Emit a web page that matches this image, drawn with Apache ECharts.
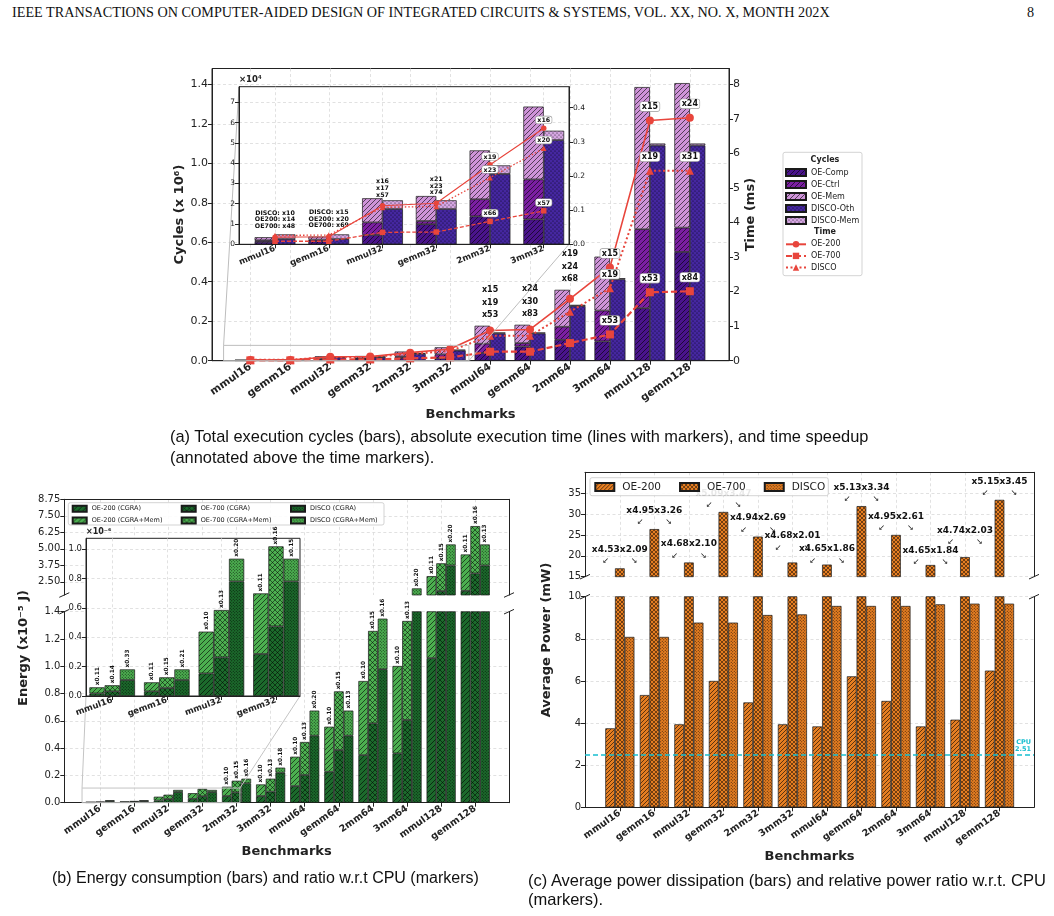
<!DOCTYPE html>
<html>
<head>
<meta charset="utf-8">
<script src="https://cdn.jsdelivr.net/npm/echarts@6.0.0/dist/echarts.min.js"></script>
<style>
  html, body { margin: 0; padding: 0; background: #fff; }
  #page { position: relative; width: 1054px; height: 916px; overflow: hidden; }
  .layer { position: absolute; left: 0; top: 0; width: 1054px; height: 916px; }
  .txt { position: absolute; white-space: nowrap; color: #111; }
  .head { font-family: "Liberation Serif", "DejaVu Serif", serif; font-size: 14.2px; line-height: 16px; top: 4px; }
  .cap { font-family: "Liberation Sans", Arial, sans-serif; font-size: 16.3px; line-height: 21px; }
</style>
</head>
<body>
<div id="page">
  <div class="txt head" style="left:12px">IEEE TRANSACTIONS ON COMPUTER-AIDED DESIGN OF INTEGRATED CIRCUITS &amp; SYSTEMS, VOL. XX, NO. X, MONTH 202X</div>
  <div class="txt head" style="left:1027px">8</div>
  <div id="ca" class="layer"></div>
  <div id="cb" class="layer"></div>
  <div id="cc" class="layer"></div>
  <div class="txt cap" style="left:170px;top:426px;font-size:16.4px">(a) Total execution cycles (bars), absolute execution time (lines with markers), and time speedup<br>(annotated above the time markers).</div>
  <div class="txt cap" style="left:52px;top:867px;font-size:16px">(b) Energy consumption (bars) and ratio w.r.t CPU (markers)</div>
  <div class="txt cap" style="left:528px;top:871px;line-height:19px;font-size:16.5px">(c) Average power dissipation (bars) and relative power ratio w.r.t. CPU<br>(markers).</div>
</div>
<script>
// ---------- data ----------
const cats = ['mmul16', 'gemm16', 'mmul32', 'gemm32', '2mm32', '3mm32', 'mmul64', 'gemm64', '2mm64', '3mm64', 'mmul128', 'gemm128'];
const catTicks = [0, 1, 2, 3, 4, 5, 6, 7, 8, 9, 10, 11];

// (a) cycles, x10^6
const oeComp   = [0.0012, 0.0015, 0.0046, 0.0099, 0.0138, 0.0123, 0.039, 0.072, 0.106, 0.098, 0.266, 0.551];
const oeCtrl   = [0.0008, 0.0008, 0.0062, 0.0016, 0.0084, 0.0197, 0.047, 0.017, 0.066, 0.156, 0.400, 0.123];
const oeMem    = [0.0015, 0.0015, 0.0119, 0.0123, 0.0241, 0.0359, 0.091, 0.093, 0.187, 0.273, 0.720, 0.732];
const discoOth = [0.0026, 0.0026, 0.0174, 0.0174, 0.0347, 0.0514, 0.138, 0.138, 0.277, 0.412, 1.090, 1.090];
const discoMem = [0.0023, 0.0023, 0.0043, 0.0043, 0.0042, 0.0046, 0.005, 0.005, 0.006, 0.006, 0.010, 0.010];
// (a) time, ms
const timeOE200 = [0.021, 0.022, 0.113, 0.120, 0.233, 0.340, 0.875, 0.905, 1.79, 2.70, 6.95, 7.03];
const timeOE700 = [0.009, 0.009, 0.035, 0.036, 0.067, 0.098, 0.26, 0.26, 0.51, 0.76, 1.98, 2.01];
const timeDISCO = [0.026, 0.027, 0.108, 0.111, 0.195, 0.281, 0.72, 0.72, 1.42, 2.10, 5.50, 5.50];
// (a) time speedups
const spOE200 = [14, 20, 16, 21, 19, 16, 15, 24, 19, 15, 15, 24];
const spDISCO = [10, 15, 17, 23, 23, 20, 19, 30, 24, 19, 19, 31];
const spOE700 = [48, 69, 57, 74, 66, 57, 53, 83, 68, 53, 53, 84];

// (b) energy, x10^-5 J
const eCgra200 = [0.0018, 0.0032, 0.0154, 0.0286, 0.049, 0.049, 0.122, 0.227, 0.349, 0.362, 1.06, 1.82];
const eMem200  = [0.0041, 0.0061, 0.0284, 0.0412, 0.068, 0.085, 0.215, 0.330, 0.543, 0.640, 1.87, 2.75];
const eCgra700 = [0.0032, 0.0054, 0.0263, 0.0474, 0.076, 0.081, 0.203, 0.386, 0.582, 0.606, 1.80, 3.14];
const eMem700  = [0.0041, 0.0073, 0.0322, 0.0544, 0.085, 0.095, 0.242, 0.430, 0.677, 0.726, 2.10, 3.58];
const eCgraD   = [0.0109, 0.0109, 0.0780, 0.0780, 0.142, 0.220, 0.491, 0.491, 0.978, 1.45, 3.74, 3.74];
const eMemD    = [0.0072, 0.0072, 0.0154, 0.0154, 0.034, 0.037, 0.184, 0.184, 0.371, 0.55, 1.59, 1.59];
// (b) ratio w.r.t. CPU
const erOE200 = [0.11, 0.11, 0.10, 0.11, 0.10, 0.10, 0.10, 0.10, 0.10, 0.10, 0.11, 0.11];
const erOE700 = [0.14, 0.15, 0.13, 0.16, 0.15, 0.13, 0.13, 0.15, 0.15, 0.13, 0.15, 0.16];
const erDISCO = [0.33, 0.21, 0.20, 0.15, 0.16, 0.18, 0.20, 0.13, 0.16, 0.20, 0.20, 0.13];

// (c) average power, mW
const pwOE200 = [3.75, 5.33, 3.94, 6.00, 4.98, 3.94, 3.84, 6.22, 5.05, 3.84, 4.16, 6.49];
const pwOE700 = [17.0, 26.4, 18.4, 30.5, 24.6, 18.4, 17.9, 31.9, 25.0, 17.8, 19.7, 33.4];
const pwDISCO = [8.09, 8.09, 8.77, 8.77, 9.13, 9.16, 9.56, 9.56, 9.56, 9.64, 9.67, 9.67];
const r700vs200   = [4.53, 4.95, 4.68, 5.09, 4.94, 4.68, 4.65, 5.13, 4.95, 4.65, 4.74, 5.15];
const r700vsDISCO = [2.09, 3.26, 2.10, 3.47, 2.69, 2.01, 1.86, 3.34, 2.61, 1.84, 2.03, 3.45];
const cpuPower = 2.51;

// ---------- styles ----------
const FONT = 'DejaVu Sans';
const INK = '#222';
const RED = '#e8453c';
const CYAN = '#17becf';
const GRIDLINE = { color: '#d9d9d9', type: [3, 2.5], width: 0.8 };

function pattern(bg, kind, s, lw) {
  const c = document.createElement('canvas');
  c.width = s; c.height = s;
  const g = c.getContext('2d');
  g.fillStyle = bg;
  g.fillRect(0, 0, s, s);
  g.strokeStyle = 'rgba(0,0,0,0.85)';
  g.fillStyle = 'rgba(0,0,0,0.85)';
  g.lineWidth = lw;
  if (kind === '/' || kind === 'x') {
    g.beginPath();
    for (const k of [-s, 0, s]) { g.moveTo(k, s); g.lineTo(k + s, 0); }
    g.stroke();
  }
  if (kind === 'x') {
    g.beginPath();
    for (const k of [-s, 0, s]) { g.moveTo(k, 0); g.lineTo(k + s, s); }
    g.stroke();
  }
  if (kind === '.') {
    for (const [x, y] of [[s / 4, s / 4], [3 * s / 4, 3 * s / 4]]) {
      g.beginPath(); g.arc(x, y, lw, 0, Math.PI * 2); g.fill();
    }
  }
  return { image: c, repeat: 'repeat' };
}

function catAxis(o) {
  return {
    type: 'value', gridIndex: o.grid, min: o.lim[0], max: o.lim[1], position: o.pos || 'bottom',
    zlevel: o.zlevel || 0, z: o.zlevel ? 1 : 0,
    axisLine: { show: o.line !== false, onZero: false, lineStyle: { color: INK, width: 1 } },
    axisTick: { show: !!o.fs, customValues: o.ticks, length: 4, lineStyle: { color: INK } },
    axisLabel: {
      show: !!o.fs, customValues: o.ticks, formatter: v => cats[Math.round(v)], rotate: o.rotate,
      margin: o.margin, fontFamily: FONT, fontWeight: 'bold', fontSize: o.fs, color: INK
    },
    splitLine: { show: true, lineStyle: GRIDLINE },
    name: o.name, nameLocation: 'middle', nameGap: o.nameGap,
    nameTextStyle: { fontFamily: FONT, fontWeight: 'bold', fontSize: 13, color: INK }
  };
}

function valAxis(o) {
  return {
    type: 'value', gridIndex: o.grid, position: o.pos || 'left', min: o.lim[0], max: o.lim[1],
    zlevel: o.zlevel || 0, z: o.zlevel ? 1 : 0,
    axisLine: { show: o.line !== false, onZero: false, lineStyle: { color: INK, width: 1 } },
    axisTick: { show: !!o.ticks, customValues: o.ticks, length: 4, lineStyle: { color: INK } },
    axisLabel: {
      show: !!o.ticks, customValues: o.ticks, formatter: o.fmt, margin: 4,
      fontFamily: FONT, fontSize: o.fs, color: INK
    },
    splitLine: { show: !!o.split, lineStyle: GRIDLINE },
    name: o.name, nameLocation: o.nameLoc || 'middle', nameGap: o.nameGap,
    nameTextStyle: Object.assign({ fontFamily: FONT, fontWeight: 'bold', fontSize: 13, color: INK }, o.nameStyle)
  };
}

// bars on a value x axis: the value goes first so that stacking works on y
function barSeries(name, vals, xi, yi, stack, color, width, labels, extra) {
  return Object.assign({
    type: 'bar', name: name, xAxisIndex: xi, yAxisIndex: yi, stack: stack,
    barWidth: width, barGap: '0%', clip: true,
    encode: { x: 1, y: 0 },
    data: vals.map((v, i) => (labels && labels[i]) ? { value: [v, i], label: labels[i] } : [v, i]),
    itemStyle: { color: color, borderColor: '#1a1a1a', borderWidth: 0.7 },
    emphasis: { disabled: true }
  }, extra || {});
}

function lineSeries(name, vals, xi, yi, st, labels, extra) {
  return Object.assign({
    type: 'line', name: name, xAxisIndex: xi, yAxisIndex: yi,
    data: vals.map((v, i) => (labels && labels[i]) ? { value: [i, v], label: labels[i] } : [i, v]),
    symbol: st.symbol, symbolSize: st.size, showAllSymbol: true,
    lineStyle: { color: RED, width: st.w, type: st.type },
    itemStyle: { color: RED },
    emphasis: { disabled: true }, z: 5
  }, extra || {});
}

function boxLabel(text, fs, dist) {
  return {
    show: true, position: 'top', distance: dist, formatter: text,
    fontFamily: FONT, fontWeight: 'bold', fontSize: fs, color: '#111',
    backgroundColor: '#fff', borderColor: '#9a9a9a', borderWidth: 0.6, borderRadius: 2, padding: [1, 1.5, 0, 1.5]
  };
}

function stackLabel(text, fs, lh, dist, dx) {
  return {
    show: true, position: 'top', distance: dist, offset: [dx, 0], formatter: text, align: 'center',
    fontFamily: FONT, fontWeight: 'bold', fontSize: fs, lineHeight: lh, color: '#111'
  };
}

function ratioLabel(r) {
  return {
    show: true, position: 'top', rotate: 90, align: 'left', verticalAlign: 'middle', distance: 2,
    formatter: 'x' + r.toFixed(2), fontFamily: FONT, fontWeight: 'bold', fontSize: 5.8, color: '#111'
  };
}

const seg = (x1, y1, x2, y2, color, w, z) => ({
  type: 'line', silent: true, z: z || 10, shape: { x1, y1, x2, y2 }, style: { stroke: color, lineWidth: w }
});
const breakMarks = (xs, ys) => {
  const out = [];
  xs.forEach(x => ys.forEach(y => out.push(seg(x - 5, y + 2.3, x + 5, y - 2.3, INK, 1, 20))));
  return out;
};
const boxRect = (x, y, w, h, z) => ({
  type: 'rect', silent: true, z: z || 3, shape: { x, y, width: w, height: h, r: 2 },
  style: { fill: 'rgba(255,255,255,0.9)', stroke: '#c8c8c8', lineWidth: 0.8 }
});
const gText = (x, y, text, font, rot, align) => ({
  type: 'text', silent: true, z: 20, x, y, rotation: rot || 0,
  style: { text, font, fill: INK, align: align || 'center', verticalAlign: 'middle' }
});

// ---------- (a) cycles and time ----------
const LA = { left: 212, top: 68.5, width: 517, height: 292.2 };
const LAi = { left: 239, top: 86.7, width: 330, height: 157.6 };
const xlimA = [-0.96, 11.98], xlimAi = [-0.67, 5.47];
const ylimA = [0, 1.48], ylimAt = [0, 8.457], ylimAi = [0, 7.77], ylimAit = [0, 0.4615];

const pA = {
  comp: pattern('#4a148c', '/', 5, 0.7),
  ctrl: pattern('#7b1fa2', '/', 5, 0.7),
  mem: pattern('#ce93d8', '/', 5, 0.7),
  oth: pattern('#4527a0', '.', 4, 0.6),
  dmem: pattern('#d5a6e2', '.', 4, 0.6)
};
const stOE200 = { symbol: 'circle', size: 8, w: 1.6, type: 'solid' };
const stOE700 = { symbol: 'rect', size: 8, w: 2.2, type: [6, 3] };
const stDISCO = { symbol: 'triangle', size: 8, w: 2, type: [2, 2.5] };
const stOE200i = { symbol: 'circle', size: 5.5, w: 1.1, type: 'solid' };
const stOE700i = { symbol: 'rect', size: 5.5, w: 1.3, type: [4, 2] };
const stDISCOi = { symbol: 'triangle', size: 5.5, w: 1.3, type: [1.5, 2] };

const mainStackIdx = [6, 7, 8], mainBoxIdx = [9, 10, 11];
const insetNamedIdx = [0, 1], insetStackIdx = [2, 3], insetBoxIdx = [4, 5];
const pick = (idxs, fn) => cats.map((c, i) => idxs.includes(i) ? fn(i) : null);
const sub6 = arr => arr.slice(0, 6);
const x100 = arr => arr.slice(0, 6).map(v => v * 100);

const oeTopLabelsMain = pick(mainStackIdx, i => stackLabel(`x${spOE200[i]}\nx${spDISCO[i]}\nx${spOE700[i]}`, 8, 12.8, 4, 7.75));
const oeTopLabelsInset = cats.map((c, i) => {
  if (insetNamedIdx.includes(i)) return stackLabel(`DISCO: x${spDISCO[i]}\nOE200: x${spOE200[i]}\nOE700: x${spOE700[i]}`, 6.3, 6.7, 7.5, 10.2);
  if (insetStackIdx.includes(i)) return stackLabel(`x${spOE200[i]}\nx${spDISCO[i]}\nx${spOE700[i]}`, 6.3, 6.7, 0, 10.2);
  return null;
});
const IN = { zlevel: 1, z: 3 };
const INL = { zlevel: 1, z: 5 };

const optA = {
  animation: false,
  textStyle: { fontFamily: FONT },
  grid: [
    Object.assign({ show: true, borderColor: INK, borderWidth: 1, backgroundColor: 'transparent' }, LA),
    Object.assign({ show: true, borderColor: INK, borderWidth: 1, backgroundColor: '#fff', zlevel: 1, z: 0 }, LAi)
  ],
  xAxis: [
    catAxis({ grid: 0, lim: xlimA, ticks: catTicks, fs: 10.5, rotate: 35, margin: 5, name: 'Benchmarks', nameGap: 47 }),
    catAxis({ grid: 1, lim: xlimAi, ticks: catTicks.slice(0, 6), fs: 8.5, rotate: 22, margin: 4, zlevel: 1 })
  ],
  yAxis: [
    valAxis({ grid: 0, lim: ylimA, ticks: [0, 0.2, 0.4, 0.6, 0.8, 1.0, 1.2, 1.4], fmt: v => v.toFixed(1), fs: 11, split: true,
      name: 'Cycles (x 10\u2076)', nameGap: 23 }),
    valAxis({ grid: 0, pos: 'right', lim: ylimAt, ticks: [0, 1, 2, 3, 4, 5, 6, 7, 8], fmt: v => String(v), fs: 11,
      name: 'Time (ms)', nameGap: 10 }),
    valAxis({ grid: 1, lim: ylimAi, ticks: [0, 1, 2, 3, 4, 5, 6, 7], fmt: v => String(v), fs: 7.5, split: true, zlevel: 1,
      name: '\u00d710\u2074', nameLoc: 'end', nameGap: 2, nameStyle: { fontSize: 8.5, align: 'left' } }),
    valAxis({ grid: 1, pos: 'right', lim: ylimAit, ticks: [0, 0.1, 0.2, 0.3, 0.4], fmt: v => v.toFixed(1), fs: 7.5, zlevel: 1 })
  ],
  legend: [
    { data: ['OE-Comp', 'OE-Ctrl', 'OE-Mem', 'DISCO-Oth', 'DISCO-Mem'], orient: 'vertical', left: 785, top: 168,
      icon: 'rect', itemWidth: 20, itemHeight: 7, itemGap: 3, padding: 0, selectedMode: false,
      textStyle: { fontFamily: FONT, fontSize: 8, lineHeight: 8, color: INK } },
    { data: ['OE-200', 'OE-700', 'DISCO'], orient: 'vertical', left: 785, top: 240.3,
      itemWidth: 20, itemHeight: 8, itemGap: 3.6, padding: 0, selectedMode: false,
      textStyle: { fontFamily: FONT, fontSize: 8, lineHeight: 8, color: INK } }
  ],
  series: [
    barSeries('OE-Comp', oeComp, 0, 0, 'aOE', pA.comp, 15.5),
    barSeries('OE-Ctrl', oeCtrl, 0, 0, 'aOE', pA.ctrl, 15.5),
    barSeries('OE-Mem', oeMem, 0, 0, 'aOE', pA.mem, 15.5, oeTopLabelsMain),
    barSeries('DISCO-Oth', discoOth, 0, 0, 'aDISCO', pA.oth, 15.5),
    barSeries('DISCO-Mem', discoMem, 0, 0, 'aDISCO', pA.dmem, 15.5),
    lineSeries('OE-200', timeOE200, 0, 1, stOE200, pick(mainBoxIdx, i => boxLabel('x' + spOE200[i], 8, 5.5))),
    lineSeries('OE-700', timeOE700, 0, 1, stOE700, pick(mainBoxIdx, i => boxLabel('x' + spOE700[i], 8, 5.5))),
    lineSeries('DISCO', timeDISCO, 0, 1, stDISCO, pick(mainBoxIdx, i => boxLabel('x' + spDISCO[i], 8, 5.5))),

    barSeries('OE-Comp', x100(oeComp), 1, 2, 'iOE', pA.comp, 20.4, null, IN),
    barSeries('OE-Ctrl', x100(oeCtrl), 1, 2, 'iOE', pA.ctrl, 20.4, null, IN),
    barSeries('OE-Mem', x100(oeMem), 1, 2, 'iOE', pA.mem, 20.4, oeTopLabelsInset, IN),
    barSeries('DISCO-Oth', x100(discoOth), 1, 2, 'iDISCO', pA.oth, 20.4, null, IN),
    barSeries('DISCO-Mem', x100(discoMem), 1, 2, 'iDISCO', pA.dmem, 20.4, null, IN),
    lineSeries('OE-200', sub6(timeOE200), 1, 3, stOE200i, pick(insetBoxIdx, i => boxLabel('x' + spOE200[i], 6.3, 2)), INL),
    lineSeries('OE-700', sub6(timeOE700), 1, 3, stOE700i, pick(insetBoxIdx, i => boxLabel('x' + spOE700[i], 6.3, 2)), INL),
    lineSeries('DISCO', sub6(timeDISCO), 1, 3, stDISCOi, pick(insetBoxIdx, i => boxLabel('x' + spDISCO[i], 6.3, 2)), INL)
  ]
};

const chartA = echarts.init(document.getElementById('ca'));
chartA.setOption(optA);
{
  const a0 = chartA.convertToPixel({ xAxisIndex: 0, yAxisIndex: 0 }, [xlimAi[0], 0]);
  const a1 = chartA.convertToPixel({ xAxisIndex: 0, yAxisIndex: 0 }, [xlimAi[1], ylimAi[1] / 100]);
  const zc = '#bdbdbd';
  chartA.setOption({
    graphic: [
      { type: 'rect', silent: true, z: 10, shape: { x: a0[0], y: a1[1], width: a1[0] - a0[0], height: a0[1] - a1[1] },
        style: { fill: 'none', stroke: zc, lineWidth: 1 } },
      seg(a0[0], a1[1], LAi.left, LAi.top, zc, 1),
      seg(a1[0], a0[1], LAi.left + LAi.width, LAi.top + LAi.height, zc, 1),
      boxRect(783, 152.3, 79, 123.4, 1),
      gText(825, 160, 'Cycles', `bold 8px "${FONT}"`),
      gText(825, 232.3, 'Time', `bold 8px "${FONT}"`)
    ]
  });
}

// ---------- (b) energy ----------
const LBu = { left: 64.3, top: 499.3, width: 444.7, height: 95.7 };
const LBl = { left: 64.3, top: 611.7, width: 444.7, height: 191 };
const LBi = { left: 86, top: 538.3, width: 214, height: 157.7 };
const xlimB = [-1.05, 11.99], xlimBi = [-0.48, 3.44], zoomBoxB = [-0.53, 4.1];
const ylimBu = [1.5, 8.75], ylimBl = [0, 1.4], ylimBi = [0, 1.073];
const GD = '#1c6a2c', GL = '#4caf50';
const pB = {
  c200: pattern(GD, '/', 5, 0.7), m200: pattern(GL, '/', 5, 0.7),
  c700: pattern(GD, 'x', 5, 0.6), m700: pattern(GL, 'x', 5, 0.6),
  cD: pattern(GD, '.', 3, 0.5), mD: pattern(GL, '.', 3, 0.5)
};
const cfgB = [
  { tag: '200', name: 'OE-200', cgra: eCgra200, mem: eMem200, r: erOE200, pc: pB.c200, pm: pB.m200 },
  { tag: '700', name: 'OE-700', cgra: eCgra700, mem: eMem700, r: erOE700, pc: pB.c700, pm: pB.m700 },
  { tag: 'D', name: 'DISCO', cgra: eCgraD, mem: eMemD, r: erDISCO, pc: pB.cD, pm: pB.mD }
];
const regionsB = [
  { key: 'u', x: 0, y: 0, show: (i, top) => i >= 4 && top > ylimBu[0] },
  { key: 'l', x: 1, y: 2, show: (i, top) => i >= 4 && top <= ylimBl[1] }
];
const seriesB = [];
regionsB.forEach(rg => cfgB.forEach(c => {
  const labels = cats.map((n, i) => rg.show(i, c.cgra[i] + c.mem[i]) ? ratioLabel(c.r[i]) : null);
  seriesB.push(barSeries(c.name + ' (CGRA)', c.cgra, rg.x, rg.y, rg.key + c.tag, c.pc, 9.7));
  seriesB.push(barSeries(c.name + ' (CGRA+Mem)', c.mem, rg.x, rg.y, rg.key + c.tag, c.pm, 9.7, labels));
}));
cfgB.forEach(c => {
  const x10 = arr => arr.slice(0, 4).map(v => v * 10);
  const labels = cats.slice(0, 4).map((n, i) => ratioLabel(c.r[i]));
  seriesB.push(barSeries(c.name + ' (CGRA)', x10(c.cgra), 2, 4, 'i' + c.tag, c.pc, 15.2, null, IN));
  seriesB.push(barSeries(c.name + ' (CGRA+Mem)', x10(c.mem), 2, 4, 'i' + c.tag, c.pm, 15.2, labels, IN));
});
const legB = (names, left) => ({
  data: names, orient: 'vertical', left: left, top: 504.8, icon: 'rect', itemWidth: 14, itemHeight: 6,
  itemGap: 3.7, padding: 0, selectedMode: false, textStyle: { fontFamily: FONT, fontSize: 6.5, lineHeight: 7, color: INK }
});

const optB = {
  animation: false,
  textStyle: { fontFamily: FONT },
  grid: [
    Object.assign({}, LBu),
    Object.assign({}, LBl),
    Object.assign({ show: true, borderColor: INK, borderWidth: 1, backgroundColor: '#fff', zlevel: 1, z: 0 }, LBi)
  ],
  xAxis: [
    catAxis({ grid: 0, lim: xlimB, ticks: catTicks, pos: 'top' }),
    catAxis({ grid: 1, lim: xlimB, ticks: catTicks, fs: 9.5, rotate: 35, margin: 5, name: 'Benchmarks', nameGap: 42 }),
    catAxis({ grid: 2, lim: xlimBi, ticks: [0, 1, 2, 3], fs: 8.5, rotate: 20, margin: 4, zlevel: 1 })
  ],
  yAxis: [
    valAxis({ grid: 0, lim: ylimBu, ticks: [2.5, 3.75, 5, 6.25, 7.5, 8.75], fmt: v => v.toFixed(2), fs: 10, split: true }),
    valAxis({ grid: 0, pos: 'right', lim: ylimBu }),
    valAxis({ grid: 1, lim: ylimBl, ticks: [0, 0.2, 0.4, 0.6, 0.8, 1.0, 1.2, 1.4], fmt: v => v.toFixed(1), fs: 10, split: true }),
    valAxis({ grid: 1, pos: 'right', lim: ylimBl }),
    valAxis({ grid: 2, lim: ylimBi, ticks: [0, 0.2, 0.4, 0.6, 0.8, 1.0], fmt: v => v.toFixed(1), fs: 8.5, split: true, zlevel: 1,
      name: '\u00d710\u207b\u2076', nameLoc: 'end', nameGap: 2, nameStyle: { fontSize: 8, align: 'left' } })
  ],
  legend: [
    legB(['OE-200 (CGRA)', 'OE-200 (CGRA+Mem)'], 71.7),
    legB(['OE-700 (CGRA)', 'OE-700 (CGRA+Mem)'], 180.7),
    legB(['DISCO (CGRA)', 'DISCO (CGRA+Mem)'], 290)
  ],
  series: seriesB
};
const chartB = echarts.init(document.getElementById('cb'));
chartB.setOption(optB);
{
  const b0 = chartB.convertToPixel({ xAxisIndex: 1, yAxisIndex: 2 }, [zoomBoxB[0], 0]);
  const b1 = chartB.convertToPixel({ xAxisIndex: 1, yAxisIndex: 2 }, [zoomBoxB[1], ylimBi[1] / 10]);
  const zc = '#c4c4c4';
  const yb = LBu.top + LBu.height, yt = LBl.top;
  chartB.setOption({
    graphic: [
      { type: 'rect', silent: true, z: 10, shape: { x: b0[0], y: b1[1], width: b1[0] - b0[0], height: b0[1] - b1[1] },
        style: { fill: 'none', stroke: zc, lineWidth: 1 } },
      seg(b0[0], b1[1], LBi.left, LBi.top + LBi.height, zc, 1),
      seg(b1[0], b1[1], LBi.left + LBi.width, LBi.top + LBi.height, zc, 1),
      boxRect(68.3, 502.7, 315.7, 22.3),
      gText(24, 648, 'Energy (x10\u207b\u2075 J)', `bold 13px "${FONT}"`, Math.PI / 2)
    ].concat(breakMarks([LBu.left, LBu.left + LBu.width], [yb, yt]))
  });
}

// ---------- (c) power ----------
const LCu = { left: 585, top: 472.3, width: 449, height: 104.4 };
const LCl = { left: 585, top: 596.7, width: 449, height: 210.6 };
const xlimC = [-1.01, 12.0];
const ylimCu = [15, 40], ylimCl = [0, 10];
const OR = '#e67e22';
const pC = { p200: pattern(OR, '/', 4, 0.7), p700: pattern(OR, 'x', 4, 0.6), pD: pattern(OR, '.', 3, 0.5) };
const liftC = { 5: 8, 6: -3, 9: -4, 10: 8 };
const ratioLabelsC = cats.map((n, i) => ({
  show: true, position: 'top', distance: 1 + (liftC[i] || 0),
  formatter: `{t|x${r700vs200[i].toFixed(2)}x${r700vsDISCO[i].toFixed(2)}}\n{a|\u2199}{g|}{a|\u2198}`,
  rich: {
    t: { fontFamily: FONT, fontWeight: 'bold', fontSize: 9, lineHeight: 11, color: '#111' },
    a: { fontFamily: FONT, fontSize: 8, lineHeight: 8, color: '#111' },
    g: { width: 22 }
  }
}));
const optC = {
  animation: false,
  textStyle: { fontFamily: FONT },
  grid: [Object.assign({}, LCu), Object.assign({}, LCl)],
  xAxis: [
    catAxis({ grid: 0, lim: xlimC, ticks: catTicks, pos: 'top' }),
    catAxis({ grid: 1, lim: xlimC, ticks: catTicks, fs: 9.5, rotate: 35, margin: 5, name: 'Benchmarks', nameGap: 43 })
  ],
  yAxis: [
    valAxis({ grid: 0, lim: ylimCu, ticks: [15, 20, 25, 30, 35], fmt: v => String(v), fs: 10, split: true }),
    valAxis({ grid: 0, pos: 'right', lim: ylimCu }),
    valAxis({ grid: 1, lim: ylimCl, ticks: [0, 2, 4, 6, 8, 10], fmt: v => String(v), fs: 10, split: true }),
    valAxis({ grid: 1, pos: 'right', lim: ylimCl })
  ],
  legend: {
    data: ['OE-200', 'OE-700', 'DISCO'], left: 594.3, top: 481.5, icon: 'rect', itemWidth: 19, itemHeight: 8,
    itemGap: 18, padding: 0, selectedMode: false,
    textStyle: { fontFamily: FONT, fontSize: 10.5, lineHeight: 10, color: INK, padding: [0, 0, 0, 3] }
  },
  series: [
    barSeries('OE-200', pwOE200, 0, 0, null, pC.p200, 9.7),
    barSeries('OE-700', pwOE700, 0, 0, null, pC.p700, 9.7, ratioLabelsC),
    barSeries('DISCO', pwDISCO, 0, 0, null, pC.pD, 9.7),
    barSeries('OE-200', pwOE200, 1, 2, null, pC.p200, 9.7),
    barSeries('OE-700', pwOE700, 1, 2, null, pC.p700, 9.7),
    barSeries('DISCO', pwDISCO, 1, 2, null, pC.pD, 9.7, null, {
      markLine: {
        silent: true, symbol: 'none', animation: false,
        data: [{ yAxis: cpuPower }],
        lineStyle: { color: CYAN, type: [5, 3], width: 1.5 },
        label: { position: 'insideEndTop', formatter: 'CPU\n' + cpuPower.toFixed(2), color: CYAN,
          fontFamily: FONT, fontWeight: 'bold', fontSize: 6.5, lineHeight: 7, distance: [3, 2] }
      }
    })
  ],
  graphic: [
    boxRect(590, 477.7, 238.3, 18),
    gText(547, 640, 'Average Power (mW)', `bold 13px "${FONT}"`, Math.PI / 2)
  ].concat(breakMarks([LCu.left, LCu.left + LCu.width], [LCu.top + LCu.height, LCl.top]))
};
const chartC = echarts.init(document.getElementById('cc'));
chartC.setOption(optC);
</script>
</body>
</html>
